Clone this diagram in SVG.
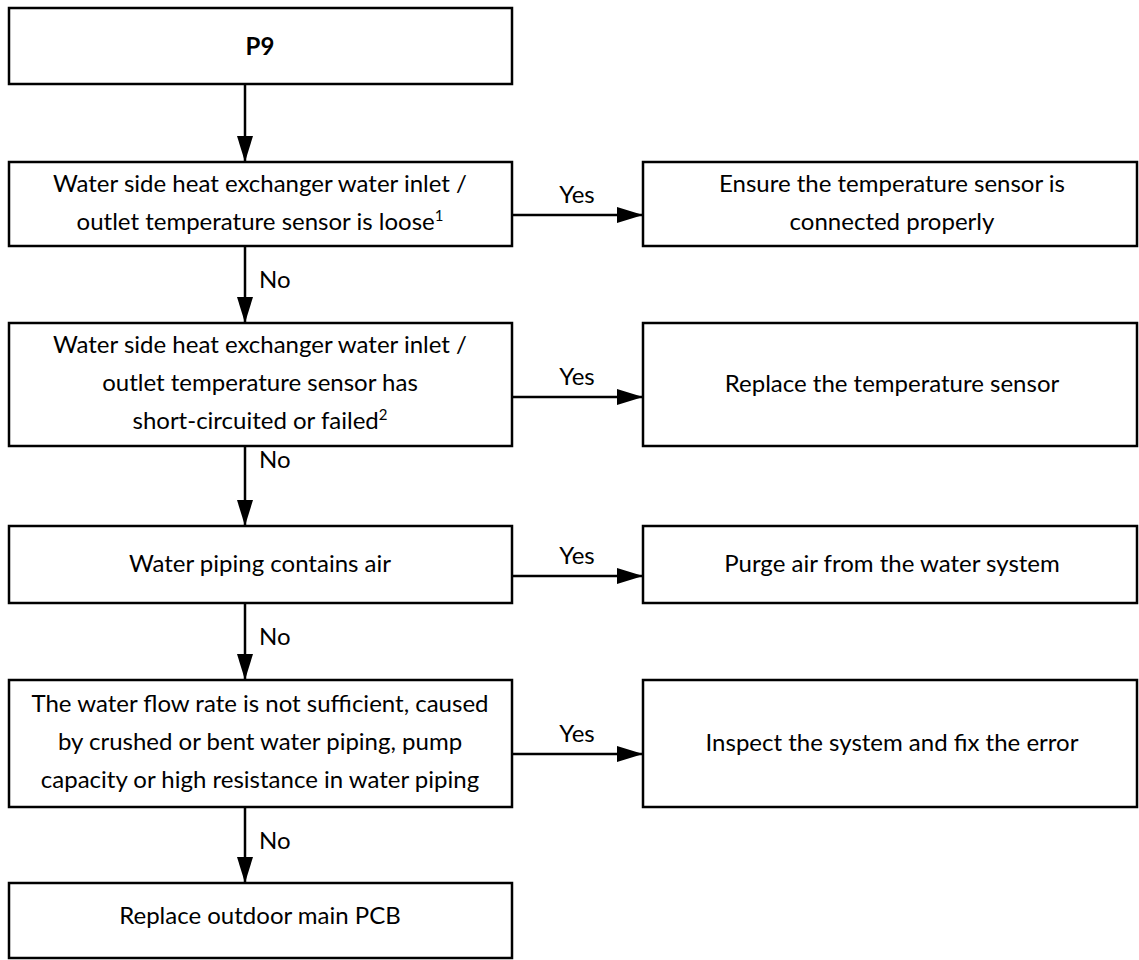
<svg xmlns="http://www.w3.org/2000/svg" width="1139" height="960" viewBox="0 0 1139 960">
<style>
.box{fill:#fff;stroke:#000;stroke-width:2.5}
.t{font-family:Lato,"Liberation Sans",sans-serif;font-size:24px;fill:#000;text-anchor:middle}
.b{font-weight:bold}
.lbl{font-family:Lato,"Liberation Sans",sans-serif;font-size:24px;fill:#000}
.sup{font-size:15px}
.c{stroke:#000;stroke-width:2.5;fill:none;marker-end:url(#ah)}
</style>
<defs>
<marker id="ah" markerUnits="userSpaceOnUse" markerWidth="26" markerHeight="16" refX="26" refY="8" orient="auto">
<path d="M0,0 L26,8 L0,16 z" fill="#000"/>
</marker>
</defs>
<rect width="1139" height="960" fill="#fff"/>
<g id="connectors">
<line class="c" x1="245" y1="84" x2="245" y2="162"/>
<line class="c" x1="245" y1="246" x2="245" y2="323"/>
<line class="c" x1="245" y1="446" x2="245" y2="526"/>
<line class="c" x1="245" y1="603" x2="245" y2="680"/>
<line class="c" x1="245" y1="807" x2="245" y2="883"/>
<line class="c" x1="512" y1="215" x2="643" y2="215"/>
<line class="c" x1="512" y1="397" x2="643" y2="397"/>
<line class="c" x1="512" y1="576" x2="643" y2="576"/>
<line class="c" x1="512" y1="754" x2="643" y2="754"/>
<text class="lbl" x="577" y="203" text-anchor="middle">Yes</text>
<text class="lbl" x="577" y="385" text-anchor="middle">Yes</text>
<text class="lbl" x="577" y="564" text-anchor="middle">Yes</text>
<text class="lbl" x="577" y="742" text-anchor="middle">Yes</text>
<text class="lbl" x="259" y="288">No</text>
<text class="lbl" x="259" y="468">No</text>
<text class="lbl" x="259" y="645">No</text>
<text class="lbl" x="259" y="849">No</text>
</g>
<g id="p9">
<rect class="box" x="9" y="8" width="503" height="76"/>
<text class="t b" x="260" y="55">P9</text>
</g>
<g id="q1">
<rect class="box" x="9" y="162" width="503" height="84"/>
<text class="t" x="260" y="192">Water side heat exchanger water inlet /</text>
<text class="t" x="260" y="230">outlet temperature sensor is loose<tspan class="sup" dy="-9">1</tspan></text>
</g>
<g id="r1">
<rect class="box" x="643" y="162" width="494" height="84"/>
<text class="t" x="892" y="192">Ensure the temperature sensor is</text>
<text class="t" x="892" y="230">connected properly</text>
</g>
<g id="q2">
<rect class="box" x="9" y="323" width="503" height="123"/>
<text class="t" x="260" y="353">Water side heat exchanger water inlet /</text>
<text class="t" x="260" y="391">outlet temperature sensor has</text>
<text class="t" x="260" y="429">short-circuited or failed<tspan class="sup" dy="-9">2</tspan></text>
</g>
<g id="r2">
<rect class="box" x="643" y="323" width="494" height="123"/>
<text class="t" x="892" y="392">Replace the temperature sensor</text>
</g>
<g id="q3">
<rect class="box" x="9" y="526" width="503" height="77"/>
<text class="t" x="260" y="572">Water piping contains air</text>
</g>
<g id="r3">
<rect class="box" x="643" y="526" width="494" height="77"/>
<text class="t" x="892" y="572">Purge air from the water system</text>
</g>
<g id="q4">
<rect class="box" x="9" y="680" width="503" height="127"/>
<text class="t" x="260" y="712">The water flow rate is not sufficient, caused</text>
<text class="t" x="260" y="750">by crushed or bent water piping, pump</text>
<text class="t" x="260" y="788">capacity or high resistance in water piping</text>
</g>
<g id="r4">
<rect class="box" x="643" y="680" width="494" height="127"/>
<text class="t" x="892" y="751">Inspect the system and fix the error</text>
</g>
<g id="final">
<rect class="box" x="9" y="883" width="503" height="75"/>
<text class="t" x="260" y="924">Replace outdoor main PCB</text>
</g>
</svg>
